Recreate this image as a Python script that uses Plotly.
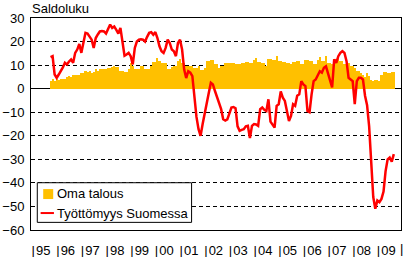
import plotly.graph_objects as go

# Monthly data, Oct 1995 - Sep 2009
start_year, start_month = 1995, 10
oma_talous = [
    3.2, 4.2, 3.2, 3.9, 3.5, 4.2, 3.9, 4.0, 4.9, 5.3, 5.0, 5.6,
    6.0, 5.6, 6.0, 6.8, 6.5, 7.4, 7.0, 7.4, 6.5, 7.2, 8.2, 7.4,
    8.5, 8.2, 8.4, 8.2, 8.9, 8.9, 9.3, 9.8, 9.3, 9.3, 7.4, 7.4,
    7.2, 7.2, 8.2, 10.7, 9.5, 8.5, 8.5, 8.5, 9.5, 9.5, 8.5, 8.5,
    8.5, 9.5, 11.2, 11.5, 13.1, 11.7, 11.0, 10.7, 10.7, 8.5, 8.5, 9.0,
    9.8, 9.8, 11.7, 12.4, 10.7, 10.7, 9.5, 9.5, 9.5, 9.5, 8.9, 8.9,
    9.5, 7.9, 7.9, 8.9, 11.7, 11.7, 12.0, 12.0, 10.3, 10.3, 8.9, 9.5,
    9.5, 11.0, 11.0, 11.0, 10.7, 10.7, 10.3, 10.3, 10.3, 10.7, 10.7, 11.2,
    11.2, 11.0, 11.0, 12.1, 13.1, 11.2, 11.2, 10.7, 10.7, 9.8, 12.4, 12.4,
    12.1, 12.1, 13.8, 11.7, 11.7, 11.2, 11.2, 11.0, 11.0, 10.3, 11.2, 11.2,
    11.7, 11.7, 10.3, 10.3, 12.1, 12.1, 11.7, 11.7, 10.3, 10.3, 12.1, 13.4,
    11.7, 11.7, 13.8, 11.0, 11.0, 10.3, 12.4, 12.4, 13.1, 11.7, 11.7, 10.3,
    10.3, 10.7, 9.8, 9.8, 8.9, 7.4, 7.4, 6.8, 5.6, 5.0, 6.5, 5.5,
    3.5, 3.2, 3.5, 3.5, 3.2, 5.6, 7.2, 7.2, 6.8, 6.8, 7.0, 7.0,
]
tyottomyys = [
    13.4, 13.8, 6.0, 4.6, 6.0, 7.4, 9.0, 11.0, 10.3, 11.5, 12.4, 11.0,
    15.2, 16.6, 19.0, 15.2, 19.4, 23.7, 23.4, 22.0, 20.8, 17.3, 21.5, 23.0,
    24.3, 24.5, 24.3, 23.4, 25.5, 27.2, 25.8, 26.4, 25.0, 23.4, 25.8, 20.0,
    14.0, 14.5, 15.2, 13.8, 10.3, 17.3, 20.0, 20.8, 21.0, 20.8, 20.0, 22.0,
    23.7, 24.0, 22.9, 24.0, 21.5, 18.0, 15.9, 15.2, 17.3, 20.8, 19.4, 16.6,
    15.9, 13.8, 19.4, 20.8, 16.6, 8.2, 4.5, 7.4, 6.8, 5.3, -3.0, -12.0,
    -17.2, -20.0, -15.0, -10.0, -5.9, -1.7, 2.5, 1.8, -1.0, -3.8, -6.6, -8.7,
    -13.0, -13.5, -13.0, -10.0, -8.0, -7.8, -8.3, -16.0, -17.9, -17.5, -17.2, -16.0,
    -15.8, -21.0, -15.8, -15.0, -15.2, -15.8, -8.7, -8.0, -9.0, -9.5, -4.5, -14.0,
    -15.4, -16.5, -7.3, -6.6, -1.2, -3.8, -5.2, -10.0, -13.7, -11.6, -6.6, -7.3,
    -3.0, -2.4, 3.2, 1.8, 1.1, -9.5, -10.0, -2.4, 3.2, 3.9, 5.5, 7.4,
    6.8, 8.9, 9.5, 6.8, 3.2, 0.5, 12.4, 11.0, 13.8, 15.2, 15.9, 15.2,
    11.7, 4.6, 3.9, 3.2, -6.6, 3.2, 4.6, 4.6, 3.9, -3.0, -7.0, -16.0,
    -31.0, -46.0, -51.0, -47.5, -48.2, -46.8, -43.7, -35.0, -30.0, -29.2, -31.0, -27.8,
]
years = list(range(1995, 2010))
tick_labels = ["|\u200a" + str(y)[2:] for y in years]
end_year = 2010
series_names = ["Oma talous", "Työttömyys Suomessa"]
y_title = "Saldoluku"

# month positions on a decimal-year axis (centre of each month)
x = [start_year + (start_month - 1 + i + 0.5) / 12 for i in range(len(oma_talous))]

BAR_COLOR = "#FFC000"
LINE_COLOR = "#FF0000"
FONT = "Liberation Sans, Arial, sans-serif"

fig = go.Figure()
fig.add_trace(go.Bar(x=x, y=oma_talous, name=series_names[0], width=1 / 12,
                     marker=dict(color=BAR_COLOR, line=dict(width=0))))
fig.add_trace(go.Scatter(x=x, y=tyottomyys, name=series_names[1], mode="lines",
                         line=dict(color=LINE_COLOR, width=2.5)))

fig.update_layout(
    width=403, height=257,
    margin=dict(l=31, r=2, t=18, b=27, autoexpand=False),
    plot_bgcolor="white", paper_bgcolor="white",
    bargap=0, showlegend=False,
    font=dict(family=FONT, size=13, color="black"),
)
fig.update_xaxes(
    range=[start_year, end_year], tickmode="array",
    tickvals=years, ticktext=tick_labels, tickangle=0,
    ticklabelposition="outside right", ticks="", ticklabelstandoff=8,
    showgrid=False, zeroline=False, automargin=False,
    showline=True, linecolor="black", linewidth=1, mirror=True,
)
fig.update_yaxes(
    range=[-60, 30], tick0=0, dtick=10, ticks="", ticklabelstandoff=3,
    showgrid=True, gridcolor="black", gridwidth=1, griddash="4px,3px",
    zeroline=True, zerolinecolor="black", zerolinewidth=1, automargin=False,
    showline=True, linecolor="black", linewidth=1, mirror=True,
)

# closing separator after the last year label
fig.add_annotation(text="|", xref="x", yref="paper", x=end_year, y=-0.085,
                   xanchor="center", yanchor="middle", showarrow=False,
                   font=dict(family=FONT, size=13))

# title
fig.add_annotation(text=y_title, xref="paper", yref="paper", x=0, y=1,
                   xanchor="left", yanchor="bottom", showarrow=False,
                   font=dict(family=FONT, size=13), yshift=0, xshift=-1)

# legend box (drawn manually to match the compact original)
fig.add_shape(type="rect", xref="paper", yref="paper",
              x0=0.017, x1=0.434, y0=0.036, y1=0.223,
              line=dict(color="black", width=1), fillcolor="white", layer="above")
fig.add_shape(type="rect", xref="paper", yref="paper",
              x0=0.033, x1=0.060, y0=0.146, y1=0.193,
              line=dict(width=0), fillcolor=BAR_COLOR, layer="above")
fig.add_shape(type="line", xref="paper", yref="paper",
              x0=0.026, x1=0.062, y0=0.080, y1=0.080,
              line=dict(color=LINE_COLOR, width=2), layer="above")
fig.add_annotation(text=series_names[0], xref="paper", yref="paper",
                   x=0.066, y=0.170, xanchor="left", yanchor="middle",
                   showarrow=False, font=dict(family=FONT, size=13))
fig.add_annotation(text=series_names[1], xref="paper", yref="paper",
                   x=0.066, y=0.080, xanchor="left", yanchor="middle",
                   showarrow=False, font=dict(family=FONT, size=13))

fig.write_html("out.html")
